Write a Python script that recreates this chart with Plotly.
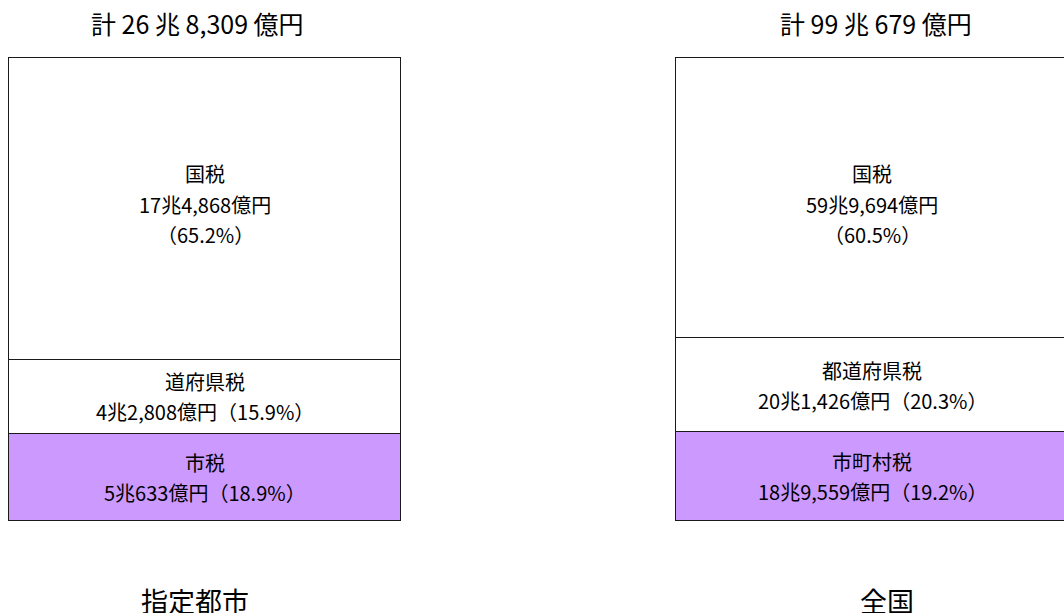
import plotly.graph_objects as go

# Tax revenue shares (%) by level of government
groups = ["指定都市", "全国"]
totals = ["計 26 兆 8,309 億円", "計 99 兆 679 億円"]
national_pct = [65.2, 60.5]
prefectural_pct = [15.9, 20.3]
municipal_pct = [18.9, 19.2]

national_amt = ["17兆4,868億円", "59兆9,694億円"]
prefectural_amt = ["4兆2,808億円", "20兆1,426億円"]
municipal_amt = ["5兆633億円", "18兆9,559億円"]

national_name = ["国税", "国税"]
prefectural_name = ["道府県税", "都道府県税"]
municipal_name = ["市税", "市町村税"]

# horizontal placement of the two columns (axis units = pixels)
xpos = [205, 872]
bar_w = 392

FONT = "Noto Sans CJK JP"
PURPLE = "#CC99FF"
INK = "#000000"

fig = go.Figure()
for vals, color in [(municipal_pct, PURPLE), (prefectural_pct, "white"), (national_pct, "white")]:
    fig.add_trace(go.Bar(
        x=xpos, y=vals, width=bar_w,
        marker=dict(color=color, line=dict(color="#1a1a1a", width=1.4)),
        hoverinfo="skip", showlegend=False,
    ))


def label(x, y, text, size, yshift=0):
    fig.add_annotation(x=x, y=y, yshift=yshift, text=text, showarrow=False,
                       font=dict(family=FONT, size=size, color=INK),
                       xanchor="center", yanchor="middle")


LBL = 20
for i in range(2):
    m = municipal_pct[i]
    p = prefectural_pct[i]
    n = national_pct[i]
    top = m + p + n
    # bottom segment: two lines around its midpoint
    label(xpos[i], m / 2, municipal_name[i], LBL, yshift=15)
    label(xpos[i], m / 2, f"{municipal_amt[i]}（{m}%）", LBL, yshift=-15)
    # middle segment
    label(xpos[i], m + p / 2, prefectural_name[i], LBL, yshift=15)
    label(xpos[i], m + p / 2, f"{prefectural_amt[i]}（{p}%）", LBL, yshift=-15)
    # top segment: three lines hung from the top edge
    label(xpos[i], top, national_name[i], LBL, yshift=-115)
    label(xpos[i], top, national_amt[i], LBL, yshift=-146)
    label(xpos[i], top, f"（{n}%）", LBL, yshift=-176)

title_x = [197, 876]
group_x = [195, 887]
for i in range(2):
    top = municipal_pct[i] + prefectural_pct[i] + national_pct[i]
    label(title_x[i], top, totals[i], 25, yshift=35)
    label(group_x[i], 0, groups[i], 27, yshift=-79)

fig.update_layout(
    width=1064, height=613,
    margin=dict(l=0, r=0, t=0, b=0),
    paper_bgcolor="white", plot_bgcolor="white",
    barmode="stack", bargap=0,
    xaxis=dict(range=[0, 1064], visible=False, fixedrange=True),
    yaxis=dict(range=[-19.87, 112.53], visible=False, fixedrange=True),
)

fig.write_html("out.html")
